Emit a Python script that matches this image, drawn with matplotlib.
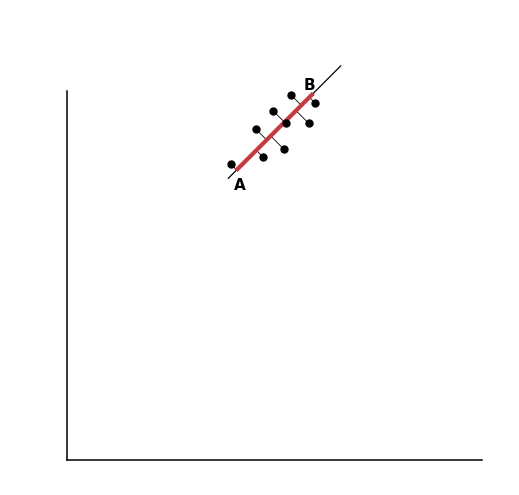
import numpy as np
import matplotlib.pyplot as plt

# data points (axes units)
px = [163.7, 189.0, 196.3, 206.3, 217.0, 219.0, 224.0, 241.7, 248.3]
py = [296.0, 330.7, 302.7, 349.0, 310.7, 336.7, 365.0, 336.7, 356.7]

# fitted direction line y = x + c
line_x = [161.3, 273.7]
line_c = 120.4
seg_x = [169.0, 246.3]   # red segment A -> B

labels = ['A', 'B']
label_xy = [(173, 275), (242, 374)]


def foot(x, y, c):
    """Projectie van punt op de lijn y = x + c."""
    t = (x + y - c) / 2.0
    return t, t + c


fig = plt.figure(figsize=(5.19, 4.95), dpi=100)
ax = fig.add_axes([67 / 519, 35 / 495, 415 / 519, 369 / 495])
ax.set_xlim(0, 415)
ax.set_ylim(0, 369)

# loodlijnen naar de lijn
for x, y in zip(px, py):
    fx, fy = foot(x, y, line_c)
    ax.plot([x, fx], [y, fy], color='black', lw=0.6, clip_on=False)

lx = np.array(line_x)
ax.plot(lx, lx + line_c, color='black', lw=0.9, clip_on=False)
sx = np.array(seg_x)
ax.plot(sx, sx + line_c, color='#c43a40', lw=3, clip_on=False, solid_capstyle='butt')

ax.plot(px, py, 'o', color='black', markersize=5, clip_on=False)

for lab, (x, y) in zip(labels, label_xy):
    ax.text(x, y, lab, fontsize=11, fontweight='bold', ha='center', va='center')

for s in ['top', 'right']:
    ax.spines[s].set_visible(False)
ax.spines['left'].set_linewidth(1.1)
ax.spines['bottom'].set_linewidth(1.1)
ax.set_xticks([])
ax.set_yticks([])

plt.savefig('out.png', dpi=100)
